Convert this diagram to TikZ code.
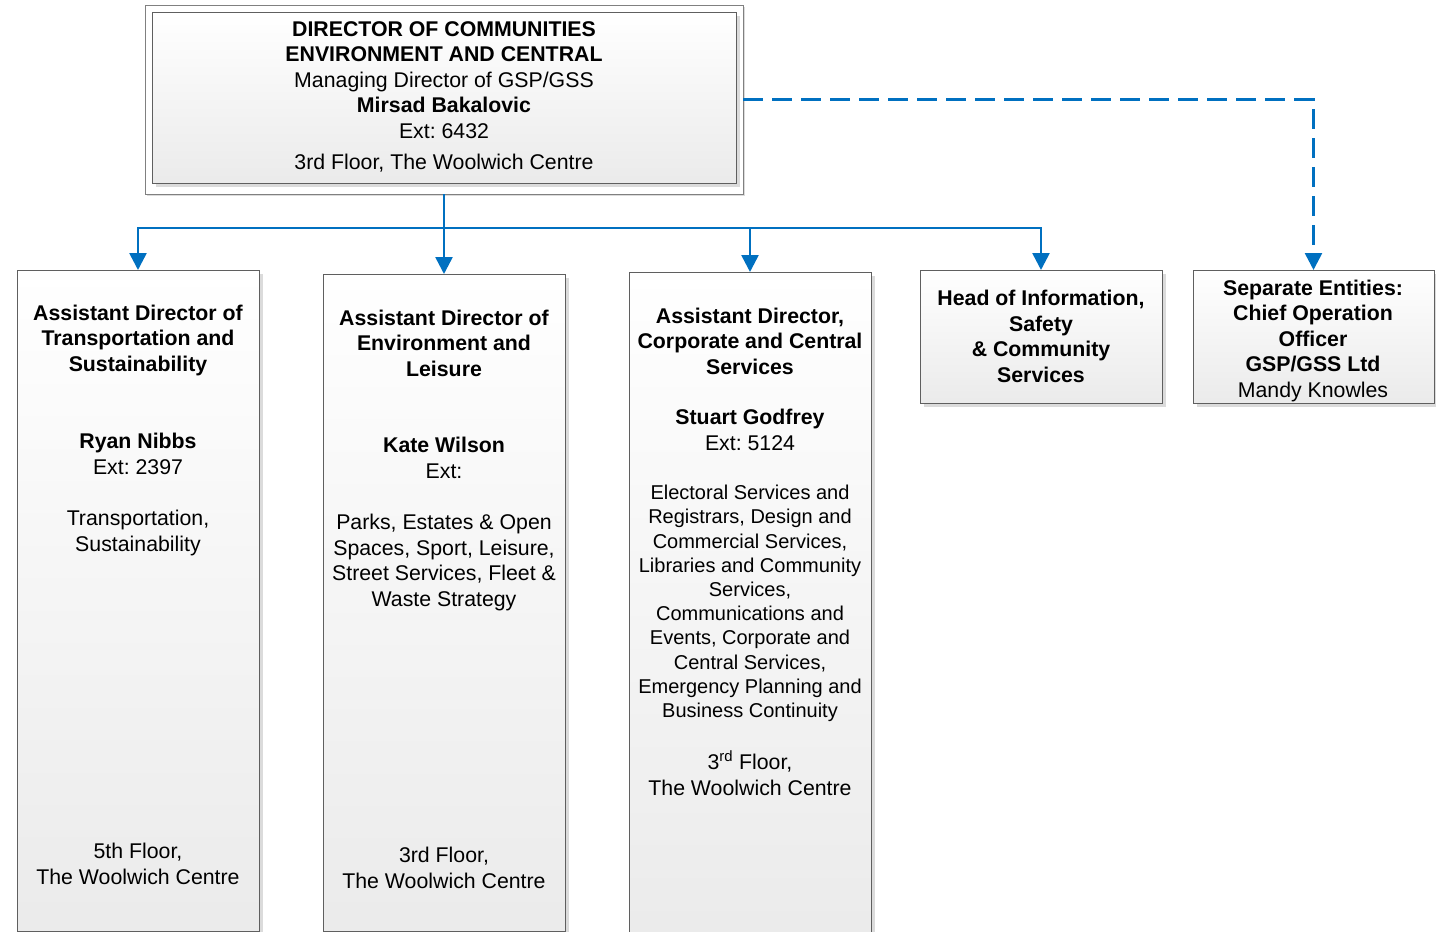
\documentclass[tikz,border=0pt]{standalone}
\usepackage{fontspec}
\setmainfont{Liberation Sans}
\usetikzlibrary{arrows.meta}
\frenchspacing
\definecolor{conblue}{HTML}{0070C0}
\definecolor{boxline}{HTML}{5F5F5F}
\tikzset{
  orgbox/.style={draw=boxline, line width=1pt, top color=white, bottom color=black!8, inner sep=0pt, outer sep=0pt, anchor=north west},
  shadowbox/.style={fill=black!14, draw=none},
  frame/.style={draw=black!50, line width=1pt, fill=white, inner sep=0pt, outer sep=0pt, anchor=north west},
  conline/.style={draw=conblue, line width=2.6pt},
  conn/.style={conline, -{Triangle[width=17pt,length=17pt]}},
  dconn/.style={conn, dash pattern=on 20pt off 9pt},
  txt/.style={font=\fontsize{21.3}{25.5}\selectfont, anchor=base, inner sep=0pt, align=center},
  stxt/.style={font=\fontsize{20}{24.2}\selectfont, anchor=base, inner sep=0pt, align=center},
}
\begin{document}
\begin{tikzpicture}[x=1pt,y=-1pt]
\useasboundingbox (0,0) rectangle (1436,932);
% top frame and box
\fill[shadowbox] (147,7) rectangle (745,196);
\node[frame, minimum width=598pt, minimum height=189pt] (top) at (145,5) {};
\fill[shadowbox] (156,16) rectangle (740,187);
\node[orgbox, minimum width=584pt, minimum height=171pt] (topin) at (152,12) {};
\node[txt] (t0a) at (444,131+7) {\textbf{DIRECTOR OF COMMUNITIES}\\\textbf{ENVIRONMENT AND CENTRAL}\\Managing Director of GSP/GSS\\\textbf{Mirsad Bakalovic}\\Ext: 6432};
\node[txt] (t0b) at (444,162+7) {3rd Floor, The Woolwich Centre};
% box 1
\fill[shadowbox] (21,274) rectangle (263,936);
\node[orgbox, minimum width=242pt, minimum height=661pt] (b1) at (17,270) {};
\node[txt] (t1a) at (138,364+7) {\textbf{Assistant Director of}\\\textbf{Transportation and}\\\textbf{Sustainability}};
\node[txt] (t1b) at (138,467+7) {\textbf{Ryan Nibbs}\\Ext: 2397};
\node[txt] (t1c) at (138,544+7) {Transportation,\\Sustainability};
\node[txt] (t1d) at (138,877+7) {5th Floor,\\The Woolwich Centre};
% box 2
\fill[shadowbox] (327,278) rectangle (569,936);
\node[orgbox, minimum width=242pt, minimum height=657pt] (b2) at (323,274) {};
\node[txt] (t2a) at (444,369+7) {\textbf{Assistant Director of}\\\textbf{Environment and}\\\textbf{Leisure}};
\node[txt] (t2b) at (444,471+7) {\textbf{Kate Wilson}\\Ext:};
\node[txt] (t2c) at (444,599+7) {Parks, Estates \& Open\\Spaces, Sport, Leisure,\\Street Services, Fleet \&\\Waste Strategy};
\node[txt] (t2d) at (444,881+7) {3rd Floor,\\The Woolwich Centre};
% box 3
\fill[shadowbox] (633,276) rectangle (875,940);
\node[orgbox, minimum width=242pt, minimum height=668pt] (b3) at (629,272) {};
\node[txt] (t3a) at (750,367+7) {\textbf{Assistant Director,}\\\textbf{Corporate and Central}\\\textbf{Services}};
\node[txt] (t3b) at (750,443+7) {\textbf{Stuart Godfrey}\\Ext: 5124};
\node[stxt] (t3c) at (750,711+6.5) {Electoral Services and\\Registrars, Design and\\Commercial Services,\\Libraries and Community\\Services,\\Communications and\\Events, Corporate and\\Central Services,\\Emergency Planning and\\Business Continuity};
\node[txt] (t3d) at (750,788+7) {3\textsuperscript{rd} Floor,\\The Woolwich Centre};
% box 4
\fill[shadowbox] (924,274) rectangle (1166,407);
\node[orgbox, minimum width=242pt, minimum height=133pt] (b4) at (920,270) {};
\node[txt] (t4a) at (1041,375+7) {\textbf{Head of Information,}\\\textbf{Safety}\\\textbf{\& Community}\\\textbf{Services}};
% box 5
\fill[shadowbox] (1197,274) rectangle (1438,407);
\node[orgbox, minimum width=241pt, minimum height=133pt] (b5) at (1193,270) {};
\node[txt] (t5a) at (1313,390+7) {\textbf{Separate Entities:}\\\textbf{Chief Operation}\\\textbf{Officer}\\\textbf{GSP/GSS Ltd}\\Mandy Knowles};
% connectors
\coordinate (bus) at (444,228);
\draw[conline] (top.south) -- (bus);
\draw[conn] (bus) -| (b1.north);
\draw[conn] (bus) -- (b2.north);
\draw[conn] (bus) -| (b3.north);
\draw[conn] (bus) -| (b4.north);
\draw[dconn] (top.east) -| (b5.north);
\end{tikzpicture}
\end{document}
